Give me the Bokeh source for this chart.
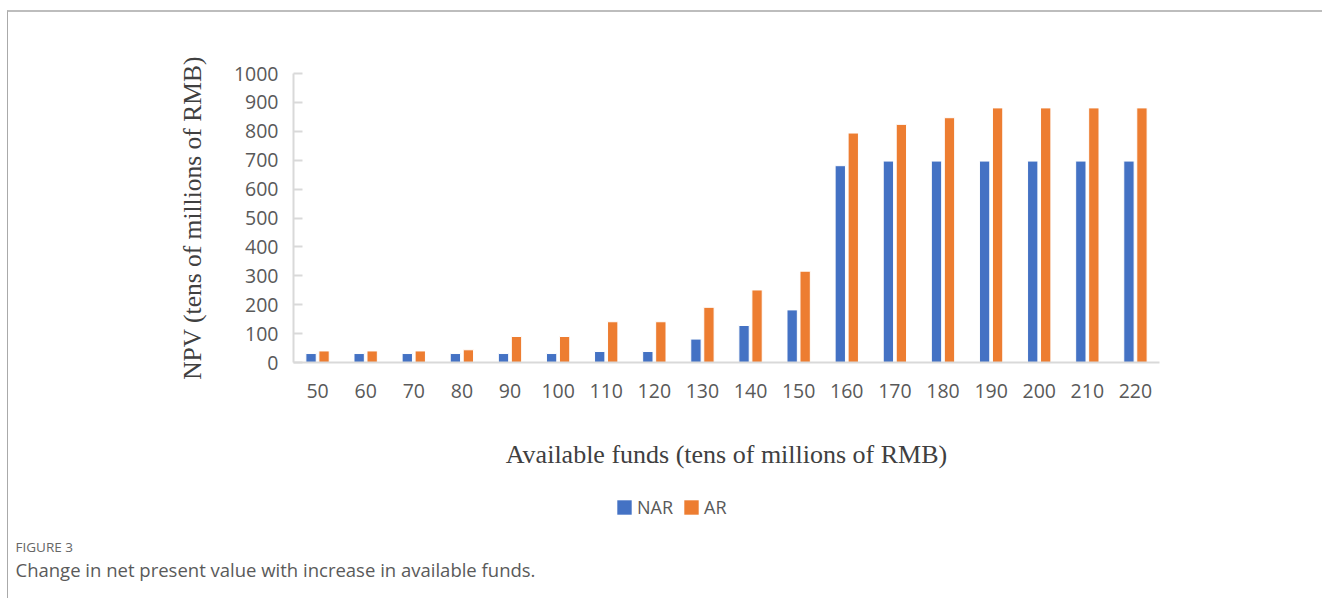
from bokeh.plotting import figure
from bokeh.layouts import column
from bokeh.models import (FactorRange, Range1d, FixedTicker, Legend, LegendItem,
                          Label, ColumnDataSource)
from bokeh.transform import dodge
from bokeh.embed import file_html
from bokeh.resources import INLINE

funds = ["50", "60", "70", "80", "90", "100", "110", "120", "130", "140",
         "150", "160", "170", "180", "190", "200", "210", "220"]
nar = [31, 31, 31, 31, 31, 31, 38, 38, 81, 128, 182, 681, 697, 697, 697, 697, 697, 697]
ar = [40, 40, 40, 44, 90, 90, 141, 141, 191, 251, 316, 794, 824, 847, 881, 881, 881, 881]
y_ticks = [0, 100, 200, 300, 400, 500, 600, 700, 800, 900, 1000]
series_names = ["NAR", "AR"]
fig_label = "FIGURE 3"
caption = "Change in net present value with increase in available funds."

BLUE = "#4472C4"
ORANGE = "#ED7D31"
TICK_COLOR = "#595959"
AXIS_COLOR = "#D9D9D9"

src = ColumnDataSource(dict(funds=funds, nar=nar, ar=ar))

# ---------------- main chart ----------------
p = figure(frame_width=866, frame_height=289,
           x_range=FactorRange(*funds, range_padding=0),
           y_range=Range1d(0, 1000), output_backend="svg", toolbar_location=None,
           min_border_left=285, min_border_right=163, min_border_top=61,
           min_border_bottom=118)
p.outline_line_color = None
p.xgrid.grid_line_color = None
p.ygrid.grid_line_color = None
p.background_fill_color = "white"
p.border_fill_color = "white"

p.vbar(x=dodge("funds", -0.135, range=p.x_range), top="nar", width=0.215,
       source=src, fill_color=BLUE, line_color="white", line_width=1)
p.vbar(x=dodge("funds", 0.135, range=p.x_range), top="ar", width=0.215,
       source=src, fill_color=ORANGE, line_color="white", line_width=1)

yax = p.yaxis[0]
yax.ticker = FixedTicker(ticks=y_ticks)
yax.axis_line_color = AXIS_COLOR
yax.axis_line_width = 2
yax.major_tick_line_color = AXIS_COLOR
yax.major_tick_line_width = 2
yax.major_tick_in = 9
yax.major_tick_out = 0
yax.minor_tick_line_color = None
yax.major_label_text_font = "Open Sans"
yax.major_label_text_font_size = "19.5px"
yax.major_label_text_color = TICK_COLOR
yax.major_label_standoff = 15
yax.axis_label = "NPV (tens of millions of RMB)"
yax.axis_label_text_font = "Liberation Serif"
yax.axis_label_text_font_style = "normal"
yax.axis_label_text_font_size = "25.5px"
yax.axis_label_text_color = "#404040"
yax.axis_label_standoff = 24

xax = p.xaxis[0]
xax.axis_line_color = AXIS_COLOR
xax.axis_line_width = 2
xax.major_tick_line_color = None
xax.major_tick_in = 0
xax.major_tick_out = 0
xax.major_label_text_font = "Open Sans"
xax.major_label_text_font_size = "19.5px"
xax.major_label_text_color = TICK_COLOR
xax.major_label_standoff = 21
xax.axis_label = "Available funds (tens of millions of RMB)"
xax.axis_label_text_font = "Liberation Serif"
xax.axis_label_text_font_style = "normal"
xax.axis_label_text_font_size = "26px"
xax.axis_label_text_color = "#404040"
xax.axis_label_standoff = 39

layout = column(p, spacing=0,
                styles={"margin-top": "10px", "margin-left": "7px",
                        "border-top": "2px solid #BDBDBD",
                        "border-left": "1px solid #AAAAAA"})

# ---------------- legend + caption strip (separate root) ----------------
p2 = figure(width=1314, height=118, x_range=FactorRange(*funds, range_padding=0),
            y_range=Range1d(0, 118), output_backend="svg", toolbar_location=None,
            x_axis_location=None, y_axis_location=None,
            min_border=0, min_border_left=0, min_border_right=0,
            min_border_top=0, min_border_bottom=0,
            styles={"margin-left": "7px", "border-left": "1px solid #AAAAAA"})
p2.outline_line_color = None
p2.xgrid.grid_line_color = None
p2.ygrid.grid_line_color = None

# legend proxies (same series, not drawn themselves)
g1 = p2.vbar(x="funds", top="nar", width=0.2, source=src, fill_color=BLUE,
             line_color=None, visible=False)
g2 = p2.vbar(x="funds", top="ar", width=0.2, source=src, fill_color=ORANGE,
             line_color=None, visible=False)

legend = Legend(items=[LegendItem(label=series_names[0], renderers=[g1]),
                       LegendItem(label=series_names[1], renderers=[g2])],
                orientation="horizontal", location=(607, 79))
legend.label_text_font = "Open Sans"
legend.label_text_font_size = "18px"
legend.label_text_color = TICK_COLOR
legend.label_text_line_height = 1.0
legend.label_height = 17
legend.glyph_width = 18
legend.glyph_height = 18
legend.label_standoff = 4
legend.spacing = 9
legend.border_line_color = None
legend.background_fill_alpha = 0
legend.inactive_fill_alpha = 0
legend.margin = 0
legend.padding = 0
p2.add_layout(legend)

p2.add_layout(Label(x=7, y=52, x_units="screen", y_units="data", text=fig_label,
                    text_font="Open Sans", text_font_size="13.5px",
                    text_color="#666666", text_baseline="alphabetic"))
p2.add_layout(Label(x=7, y=29, x_units="screen", y_units="data", text=caption,
                    text_font="Open Sans", text_font_size="18.5px",
                    text_color="#5A5A5A", text_baseline="alphabetic"))

open("out.html", "w").write(file_html([layout, p2], INLINE))
